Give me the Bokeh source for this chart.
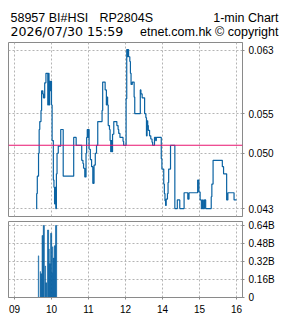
from bokeh.plotting import figure
from bokeh.layouts import column
from bokeh.models import Range1d, FixedTicker, Span
from bokeh.core.properties import value
from bokeh.embed import file_html
from bokeh.resources import INLINE

# ---------------- data ----------------
title_name = "58957 BI#HSI"
title_code = "RP2804S"
title_kind = "1-min Chart"
stamp_text = "2026/07/30 15:59"
credit_text = "etnet.com.hk \u00a9 copyright"

price_times = [
    "09:35", "09:36", "09:37", "09:39", "09:40", "09:41", "09:43", "09:44", "09:46", "09:47",
    "09:49", "09:51", "09:54", "09:55", "09:56", "09:57", "09:58", "09:59", "10:00", "10:01",
    "10:03", "10:04", "10:05", "10:06", "10:07", "10:08", "10:09", "10:11", "10:15", "10:19",
    "10:36", "10:40", "10:49", "10:51", "10:52", "10:54", "10:56", "10:57", "10:58", "10:59",
    "11:00", "11:01", "11:03", "11:05", "11:07", "11:09", "11:11", "11:13", "11:15", "11:22",
    "11:23", "11:27", "11:29", "11:30", "11:31", "11:32", "11:34", "11:35", "11:36", "11:37",
    "11:38", "11:39", "11:41", "11:46", "11:48", "11:49", "11:51", "11:56", "11:57",
    "13:01", "13:02", "13:03", "13:04", "13:05", "13:07", "13:08", "13:09", "13:11", "13:14",
    "13:15", "13:24", "13:25", "13:27", "13:31", "13:33", "13:34", "13:35", "13:36", "13:37",
    "13:39", "13:41", "13:43", "13:44", "13:47", "13:49", "13:50", "13:58", "13:59", "14:02",
    "14:03", "14:04", "14:05", "14:06", "14:08", "14:09", "14:10", "14:13", "14:20", "14:24",
    "14:28", "14:35", "14:41", "14:43", "14:57", "14:59", "15:01", "15:03", "15:05", "15:06",
    "15:08", "15:10", "15:19", "15:20", "15:22", "15:37", "15:39", "15:44", "15:46", "15:56",
    "16:00",
]
price_values = [
    0.0430, 0.0449, 0.0471, 0.0500, 0.0530, 0.0540, 0.0554, 0.0579, 0.0575, 0.0570,
    0.0589, 0.0601, 0.0561, 0.0601, 0.0561, 0.0591, 0.0579, 0.0591, 0.0561, 0.0516,
    0.0466, 0.0457, 0.0436, 0.0457, 0.0430, 0.0474, 0.0500, 0.0509, 0.0530, 0.0471,
    0.0520, 0.0510, 0.0491, 0.0487, 0.0481, 0.0470, 0.0500, 0.0520, 0.0530, 0.0520,
    0.0530, 0.0505, 0.0492, 0.0483, 0.0462, 0.0485, 0.0500, 0.0510, 0.0540, 0.0554,
    0.0590, 0.0580, 0.0561, 0.0571, 0.0561, 0.0535, 0.0530, 0.0516, 0.0502, 0.0516,
    0.0502, 0.0524, 0.0540, 0.0535, 0.0530, 0.0525, 0.0520, 0.0515, 0.0510,
    0.0569, 0.0631, 0.0622, 0.0631, 0.0622, 0.0616, 0.0601, 0.0587, 0.0590, 0.0571,
    0.0550, 0.0580, 0.0575, 0.0570, 0.0550, 0.0545, 0.0522, 0.0541, 0.0535, 0.0529,
    0.0522, 0.0518, 0.0514, 0.0510, 0.0520, 0.0516, 0.0520, 0.0493, 0.0480, 0.0461,
    0.0449, 0.0440, 0.0434, 0.0442, 0.0449, 0.0463, 0.0480, 0.0510, 0.0430, 0.0441,
    0.0430, 0.0450, 0.0442, 0.0450, 0.0466, 0.0451, 0.0441, 0.0430, 0.0441, 0.0430,
    0.0441, 0.0430, 0.0445, 0.0461, 0.0491, 0.0483, 0.0474, 0.0441, 0.0450, 0.0441,
    0.0441,
]
prev_close = 0.051

vol_times = [
    "09:39", "09:42", "09:43", "09:44", "09:45", "09:46", "09:47", "09:48", "09:50", "09:51",
    "09:52", "09:54", "09:55", "09:56", "09:57", "09:58", "09:59", "10:00", "10:01", "10:02",
    "10:03", "10:04", "10:05", "10:06", "10:07", "10:08",
]
vol_values = [  # billions
    0.37, 0.23, 0.21, 0.21, 0.55, 0.55, 0.64, 0.64, 0.28, 0.13,
    0.13, 0.60, 0.60, 0.43, 0.30, 0.30, 0.57, 0.57, 0.22, 0.45,
    0.35, 0.35, 0.46, 0.46, 0.64, 0.64,
]

hour_ticks = [0, 60, 120, 180, 240, 300, 360]
hour_labels = ["09", "10", "11", "12", "14", "15", "16"]
price_ticks = [0.043, 0.050, 0.055, 0.063]
price_labels = ["0.043", "0.050", "0.055", "0.063"]
vol_ticks = [0, 0.16, 0.32, 0.48, 0.64]
vol_labels = ["0", "0.16B", "0.32B", "0.48B", "0.64B"]


def trade_index(hhmm):
    h, m = (int(s) for s in hhmm.split(":"))
    mins = (h - 9) * 60 + m
    if h >= 13:
        mins -= 60  # lunch break removed
    return mins


px = [trade_index(t) for t in price_times]
vx = [trade_index(t) for t in vol_times]

BLUE = "#0b63a3"
GRID = "#b4b4b4"
FRAME = "#8a8a8a"
AXFONT = "Liberation Sans"

xr = Range1d(-9.7, 369.7)

# ---------------- header ----------------
head = figure(width=285, height=40, x_range=Range1d(0, 285), y_range=Range1d(40, 0),
              output_backend="svg", toolbar_location=None,
              min_border=0, x_axis_location=None, y_axis_location=None)
if "frame_align" in head.properties():
    head.frame_align = False
head.outline_line_color = None
head.grid.visible = False
head.background_fill_color = "white"
head.border_fill_color = "white"
sans = dict(text_font=value("Liberation Sans"), text_font_size="12.5px",
            text_color="#000000", text_baseline="alphabetic")
wide = dict(text_font=value("DejaVu Sans"), text_font_size="12.6px",
            text_color="#000000", text_baseline="alphabetic")
head.text(x=[10], y=[17], text=[title_name], text_align="left", **sans)
head.text(x=[99], y=[17], text=[title_code], text_align="left", **sans)
head.text(x=[278], y=[17], text=[title_kind], text_align="right", **sans)
head.text(x=[10], y=[31], text=[stamp_text], text_align="left", **wide)
head.text(x=[278], y=[31], text=[credit_text], text_align="right", **sans)


def style(fig):
    fig.outline_line_color = FRAME
    fig.outline_line_width = 1
    fig.background_fill_color = "white"
    fig.border_fill_color = "white"
    for g in fig.grid:
        g.grid_line_color = GRID
        g.grid_line_dash = "2 2"
        g.grid_line_width = 1
    for ax in fig.axis:
        ax.axis_line_color = FRAME
        ax.major_tick_line_color = FRAME
        ax.major_tick_out = 2
        ax.major_tick_in = 0
        ax.minor_tick_line_color = None
        ax.major_label_text_font = AXFONT
        ax.major_label_text_font_size = "10px"
        ax.major_label_text_color = "#000000"


# ---------------- price panel ----------------
p = figure(width=285, height=179, x_range=xr, y_range=Range1d(0.042, 0.064),
           output_backend="svg", toolbar_location=None,
           x_axis_location=None, y_axis_location="right",
           min_border_left=8, min_border_right=43, min_border_top=2, min_border_bottom=3)
p.yaxis.ticker = FixedTicker(ticks=price_ticks)
p.yaxis.major_label_overrides = dict(zip(price_ticks, price_labels))
p.yaxis.major_label_standoff = 4
p.xgrid.ticker = FixedTicker(ticks=hour_ticks)
p.ygrid.ticker = FixedTicker(ticks=price_ticks)
style(p)
p.add_layout(Span(location=prev_close, dimension="width", line_color="#e8136f", line_width=1.1))
p.step(px, price_values, mode="after", line_color=BLUE, line_width=1.2)

# ---------------- volume panel ----------------
v = figure(width=285, height=99, x_range=xr, y_range=Range1d(0, 0.675),
           output_backend="svg", toolbar_location=None,
           x_axis_location="below", y_axis_location="right",
           min_border_left=8, min_border_right=43, min_border_top=2, min_border_bottom=21)
v.yaxis.ticker = FixedTicker(ticks=vol_ticks)
v.yaxis.major_label_overrides = dict(zip(vol_ticks, vol_labels))
v.yaxis.major_label_standoff = 4
v.xaxis.ticker = FixedTicker(ticks=hour_ticks)
v.xaxis.major_label_overrides = dict(zip(hour_ticks, hour_labels))
v.xaxis.major_label_standoff = 5
v.xgrid.ticker = FixedTicker(ticks=hour_ticks)
v.ygrid.ticker = FixedTicker(ticks=vol_ticks)
style(v)
v.vbar(x=vx, top=vol_values, bottom=0, width=1.0, fill_color=BLUE,
       line_color=BLUE, line_width=0.4)

layout = column(head, p, v, spacing=0)
open("out.html", "w").write(file_html(layout, INLINE))
